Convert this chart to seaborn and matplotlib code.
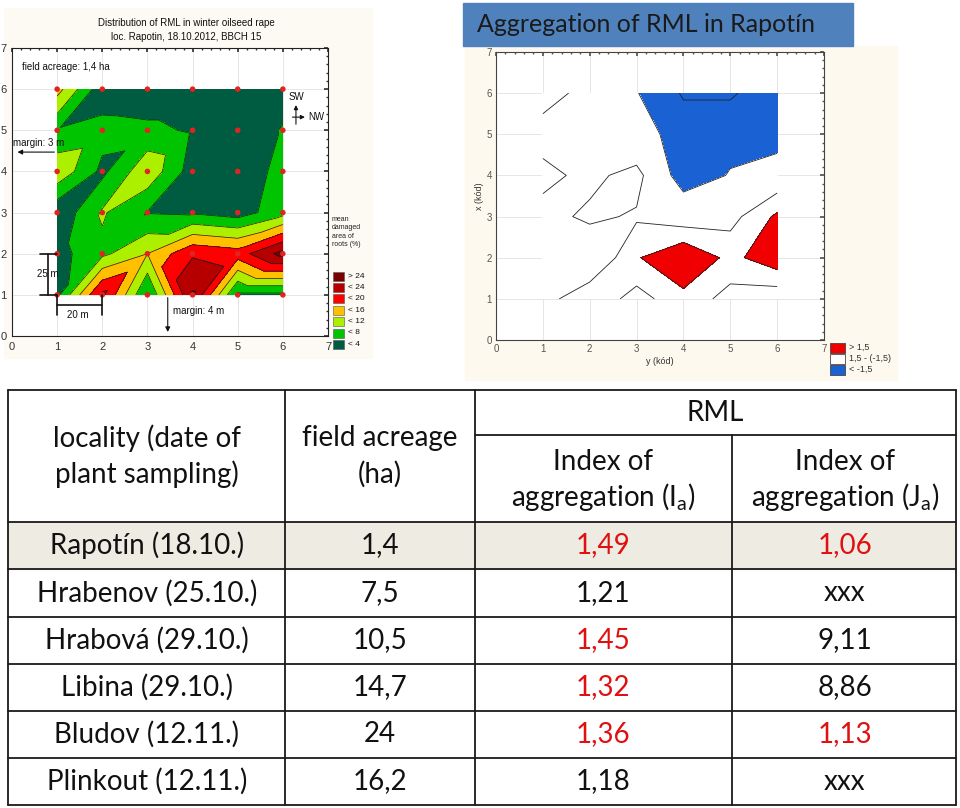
import numpy as np
import pandas as pd
import matplotlib
matplotlib.use("Agg")
import matplotlib.pyplot as plt
import matplotlib.tri as mtri
from matplotlib.patches import Rectangle
from matplotlib.ticker import AutoMinorLocator
import seaborn as sns

sns.set_theme(style="white")
plt.rcParams['font.family'] = ['Lato', 'DejaVu Sans']
plt.rcParams['mathtext.fontset'] = 'custom'
plt.rcParams['mathtext.rm'] = 'Lato'
plt.rcParams['mathtext.it'] = 'Lato:italic'

W, H = 960, 808
NARROW = ['Liberation Sans Narrow', 'Liberation Sans']

# ---------------- data ----------------
grid_pos = [1, 2, 3, 4, 5, 6]

# mean damaged area of roots (%), rows y = 1..6, columns x = 1..6
damage = [
    [3.0, 21.0, 3.5, 24.5, 3.0, 3.0],
    [2.5, 7.0, 12.0, 19.5, 18.0, 25.5],
    [0.8, 8.5, 3.8, 3.5, 2.0, 6.5],
    [11.1, 3.0, 11.0, 2.0, 1.0, 5.5],
    [4.2, 5.6, 5.0, 3.5, 1.5, 4.3],
    [13.6, 1.3, 1.0, 1.0, 1.0, 2.0],
]
damage_levels = [0, 4, 8, 12, 16, 20, 24, 40]
damage_labels = ['< 4', '< 8', '< 12', '< 16', '< 20', '< 24', '> 24']
damage_colors = ['#005c41', '#00c400', '#acf000', '#ffc000', '#ff0000', '#b60000', '#7a0000']

# aggregation index, rows x(kód) = 1..6, columns y(kód) = 1..6
aggregation = [
    [0.09, 1.26, 0.09, 1.17, 0.10, -0.23],
    [0.00, -0.60, 1.40, 2.50, 1.20, 2.20],
    [0.06, 0.75, 0.35, -0.17, 0.12, 1.70],
    [0.85, 0.15, 1.00, -2.40, -1.40, -0.40],
    [0.00, -0.20, -1.00, -2.00, -2.00, -2.45],
    [1.00, 0.09, -1.45, -2.60, -2.60, -2.00],
]
agg_levels = [-5, -1.5, 1.5, 5]
agg_line_levels = [-2.5, -1.5, 0.5, 1.5]
agg_colors = ['#1a62d4', '#ffffff', '#f00000']          # low -> high
agg_labels = ['> 1,5', '1,5 - (-1,5)', '< -1,5']         # legend, top -> bottom

localities = ['Rapotín (18.10.)', 'Hrabenov (25.10.)', 'Hrabová (29.10.)',
              'Libina (29.10.)', 'Bludov (12.11.)', 'Plinkout (12.11.)']
acreage = ['1,4', '7,5', '10,5', '14,7', '24', '16,2']
index_ia = ['1,49', '1,21', '1,45', '1,32', '1,36', '1,18']
index_ja = ['1,06', 'xxx', '9,11', '8,86', '1,13', 'xxx']
ia_red = [True, False, True, True, True, False]
ja_red = [True, False, False, False, True, False]


def px_rect(l, t, r, b):
    return [l / W, 1 - b / H, (r - l) / W, (b - t) / H]


fig = plt.figure(figsize=(9.6, 8.08), dpi=100)
fig.patch.set_facecolor('white')

# overlay in pixel coordinates for backgrounds, legends and the table
bg = fig.add_axes([0, 0, 1, 1])
bg.set_xlim(0, W)
bg.set_ylim(H, 0)
bg.axis('off')

bg.add_patch(Rectangle((4, 8), 368, 350, color='#fcfaf2', zorder=0))
bg.add_patch(Rectangle((465, 46), 432, 334, color='#fdf9ee', zorder=0))
bg.add_patch(Rectangle((463, 3), 390, 43, color='#4f81bd', zorder=1))
bg.text(477, 25, 'Aggregation of RML in Rapotín', fontsize=18, color='#1a1a1a',
        va='center', ha='left', zorder=2)

# ---------------- left: distribution of RML ----------------
axL = fig.add_axes(px_rect(12, 48, 328, 336))
axL.set_facecolor('white')
xs, ys = np.meshgrid(grid_pos, grid_pos)
tri_cells = []
n = len(grid_pos)
flip = {(0, 2)}
for r in range(n - 1):
    for c in range(n - 1):
        a, b = r * n + c, r * n + c + 1
        d, e = (r + 1) * n + c, (r + 1) * n + c + 1
        if (r, c) in flip:
            tri_cells += [[a, b, d], [b, e, d]]
        else:
            tri_cells += [[a, b, e], [a, e, d]]
tri = mtri.Triangulation(xs.ravel(), ys.ravel(), tri_cells)
zd = np.array(damage).ravel()
axL.tricontourf(tri, zd, levels=damage_levels, colors=damage_colors, zorder=2)
axL.tricontour(tri, zd, levels=damage_levels[1:-1], colors='#1a1a1a', linewidths=0.5,
               linestyles='solid', zorder=3)

pts = pd.DataFrame({'x': xs.ravel(), 'y': ys.ravel()})
sns.scatterplot(data=pts, x='x', y='y', color='#e02424', s=16, edgecolor='none',
                ax=axL, zorder=5, legend=False)

axL.set_xlim(0, 7)
axL.set_ylim(0, 7)
axL.set_xticks(range(8))
axL.set_yticks(range(8))
axL.xaxis.set_minor_locator(AutoMinorLocator(5))
axL.yaxis.set_minor_locator(AutoMinorLocator(5))
axL.grid(True, which='major', color='#e2e2e2', lw=0.6)
axL.set_axisbelow(True)
axL.tick_params(which='both', direction='in', top=True, right=True, colors='#333333',
                labelsize=8, pad=4)
axL.tick_params(which='major', length=3)
axL.tick_params(which='minor', length=1.5)
for lab in axL.get_xticklabels() + axL.get_yticklabels():
    lab.set_fontfamily(NARROW)
for s in axL.spines.values():
    s.set_color('#222222')
    s.set_linewidth(0.8)
axL.set_xlabel('')
axL.set_ylabel('')

ann = dict(fontsize=7, family=NARROW, color='#111111')
axL.text(0.22, 6.54, 'field acreage: 1,4 ha', va='center', ha='left', **ann)
axL.annotate('', xy=(0.06, 4.47), xytext=(1.0, 4.47),
             arrowprops=dict(arrowstyle='-|>', color='#111111', lw=0.8, mutation_scale=7))
axL.text(0.03, 4.58, 'margin: 3 m', va='bottom', ha='left', **ann)
axL.annotate('', xy=(3.45, 0.03), xytext=(3.45, 1.0),
             arrowprops=dict(arrowstyle='-|>', color='#111111', lw=0.8, mutation_scale=7))
axL.text(3.56, 0.6, 'margin: 4 m', va='center', ha='left', **ann)
# scale bars
axL.plot([0.8, 0.8], [1, 2], color='#111111', lw=1.2, zorder=6)
axL.plot([0.62, 1.0], [1, 1], color='#111111', lw=1.2, zorder=6)
axL.plot([0.62, 1.0], [2, 2], color='#111111', lw=1.2, zorder=6)
axL.text(0.8, 1.5, '25 m', va='center', ha='center', zorder=7, **ann)
axL.plot([1, 2], [0.75, 0.75], color='#111111', lw=1.2, zorder=6)
axL.plot([1, 1], [0.5, 1.0], color='#111111', lw=1.2, zorder=6)
axL.plot([2, 2], [0.5, 1.0], color='#111111', lw=1.2, zorder=6)
axL.text(1.46, 0.5, '20 m', va='center', ha='center', **ann)
# compass
axL.annotate('', xy=(6.29, 5.68), xytext=(6.29, 5.08),
             arrowprops=dict(arrowstyle='-|>', color='#111111', lw=0.8, mutation_scale=6))
axL.annotate('', xy=(6.55, 5.32), xytext=(6.15, 5.32),
             arrowprops=dict(arrowstyle='-|>', color='#111111', lw=0.8, mutation_scale=6))
axL.text(6.3, 5.8, 'SW', va='center', ha='center', **ann)
axL.text(6.56, 5.32, 'NW', va='center', ha='left', **ann)

bg.text(186, 23, 'Distribution of RML in winter oilseed rape', fontsize=7, family=NARROW,
        ha='center', va='center', color='#111111', zorder=3)
bg.text(186, 37, 'loc. Rapotin, 18.10.2012, BBCH 15', fontsize=7, family=NARROW,
        ha='center', va='center', color='#111111', zorder=3)

# damage legend
bg.text(332, 216, 'mean\ndamaged\narea of\nroots (%)', fontsize=5, family=NARROW,
        ha='left', va='top', color='#222222', linespacing=1.25, zorder=3)
for i, (lab, col) in enumerate(zip(damage_labels[::-1], damage_colors[::-1])):
    yc = 276 + i * 11.4
    bg.add_patch(Rectangle((333, yc - 4.5), 11, 9, facecolor=col, edgecolor='#555555',
                           lw=0.4, zorder=3))
    bg.text(348, yc, lab, fontsize=6, family=NARROW, va='center', ha='left',
            color='#111111', zorder=3)

# ---------------- right: aggregation ----------------
axR = fig.add_axes(px_rect(496, 52, 824, 340))
axR.set_facecolor('white')
za = np.array(aggregation)
axR.contourf(grid_pos, grid_pos, za, levels=agg_levels, colors=agg_colors, zorder=2)
axR.contour(grid_pos, grid_pos, za, levels=agg_line_levels, colors='#222222',
            linewidths=0.6, linestyles='solid', zorder=3)
axR.set_xlim(0, 7)
axR.set_ylim(0, 7)
axR.set_xticks(range(8))
axR.set_yticks(range(8))
axR.xaxis.set_minor_locator(AutoMinorLocator(5))
axR.yaxis.set_minor_locator(AutoMinorLocator(5))
axR.grid(True, which='major', color='#e2e2e2', lw=0.6)
axR.set_axisbelow(True)
axR.tick_params(which='both', direction='in', top=True, right=True, colors='#555555',
                labelsize=7, pad=3)
axR.tick_params(which='major', length=3)
axR.tick_params(which='minor', length=1.5)
for lab in axR.get_xticklabels() + axR.get_yticklabels():
    lab.set_fontfamily(NARROW)
for s in axR.spines.values():
    s.set_color('#444444')
    s.set_linewidth(0.8)
axR.set_xlabel('y (kód)', fontsize=6.5, family=NARROW, color='#333333', labelpad=2)
axR.set_ylabel('x (kód)', fontsize=6.5, family=NARROW, color='#333333', labelpad=2)

for i, (lab, col) in enumerate(zip(agg_labels, agg_colors[::-1])):
    yc = 347.5 + i * 11
    bg.add_patch(Rectangle((830, yc - 5), 15, 10, facecolor=col, edgecolor='#444444',
                           lw=0.6, zorder=3))
    bg.text(849, yc, lab, fontsize=6.5, family=NARROW, va='center', ha='left',
            color='#333333', zorder=3)

# ---------------- table ----------------
col_x = [8, 285, 475, 732, 956]
row_y = [522, 569, 617, 664, 711, 758, 805]
lw_t = 1.3
bg.add_patch(Rectangle((8, 522), 948, 47, color='#eeebe2', zorder=0))
bg.plot([8, 956], [390, 390], color='k', lw=lw_t)
bg.plot([475, 956], [435, 435], color='k', lw=lw_t)
for y in row_y:
    bg.plot([8, 956], [y, y], color='k', lw=lw_t)
for x in [8, 285, 475, 956]:
    bg.plot([x, x], [390, 805], color='k', lw=lw_t)
bg.plot([732, 732], [435, 805], color='k', lw=lw_t)

fs = 20
txt = dict(fontsize=fs, ha='center', va='center', color='#111111')
bg.text(147, 438, 'locality (date of', **txt)
bg.text(147, 474, 'plant sampling)', **txt)
bg.text(380, 438, 'field acreage', **txt)
bg.text(380, 474, '(ha)', **txt)
bg.text(715, 413, 'RML', **txt)
bg.text(603, 462, 'Index of', **txt)
bg.text(603, 497, r'aggregation (I$_\mathrm{a}$)', **txt)
bg.text(845, 462, 'Index of', **txt)
bg.text(845, 497, r'aggregation (J$_\mathrm{a}$)', **txt)

red = '#e01010'
for i in range(len(localities)):
    yc = (row_y[i] + row_y[i + 1]) / 2
    bg.text(147, yc, localities[i], **txt)
    bg.text(380, yc, acreage[i], **txt)
    bg.text(603, yc, index_ia[i], **{**txt, 'color': red if ia_red[i] else '#111111'})
    bg.text(845, yc, index_ja[i], **{**txt, 'color': red if ja_red[i] else '#111111'})

fig.savefig('out.png', dpi=100)
